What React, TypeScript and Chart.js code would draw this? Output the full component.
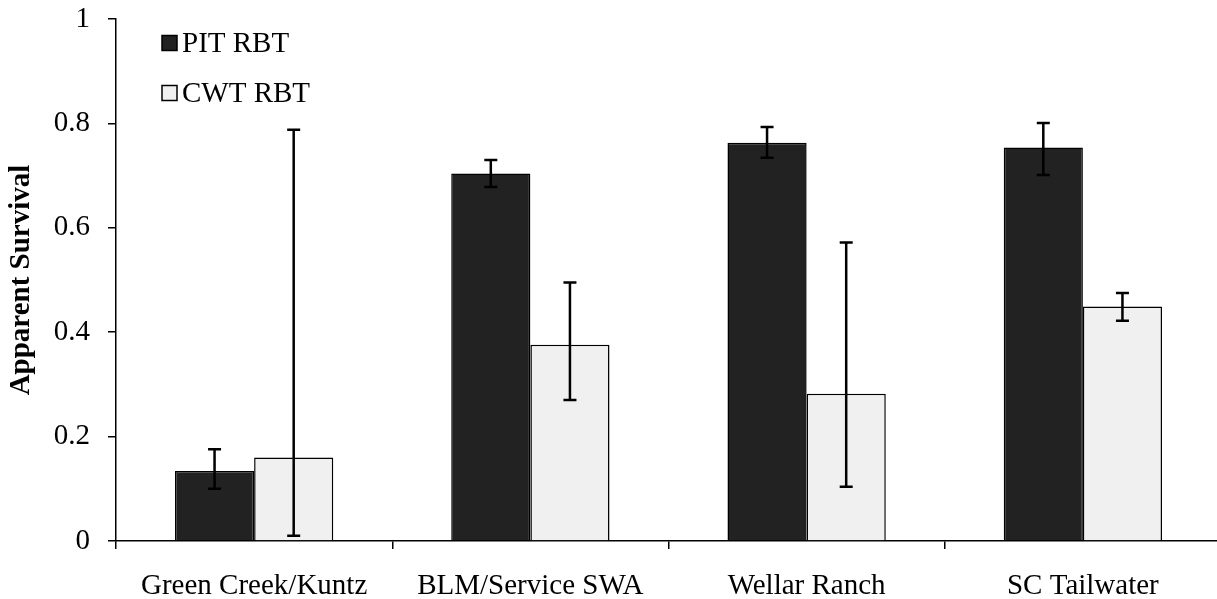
import React, { useEffect, useRef } from "react";
import { Chart, registerables } from "chart.js";

Chart.register(...registerables);

const categories = ["Green Creek/Kuntz", "BLM/Service SWA", "Wellar Ranch", "SC Tailwater"];
const seriesNames = ["PIT RBT", "CWT RBT"];
const pitValues = [0.134, 0.704, 0.763, 0.754];
const pitLower = [0.100, 0.678, 0.734, 0.701];
const pitUpper = [0.176, 0.730, 0.793, 0.801];
const cwtValues = [0.160, 0.376, 0.282, 0.449];
const cwtLower = [0.010, 0.270, 0.104, 0.422];
const cwtUpper = [0.788, 0.495, 0.572, 0.475];
const yTicks = [0, 0.2, 0.4, 0.6, 0.8, 1];

const FONT = '"Liberation Serif", "Times New Roman", serif';
const colors = ["#222222", "#f0f0f0"];

const errorBarPlugin = {
  id: "errorBars",
  afterDatasetsDraw(chart: any) {
    const ctx = chart.ctx;
    const y = chart.scales.y;
    const bounds = [
      [pitLower, pitUpper],
      [cwtLower, cwtUpper],
    ];
    chart.data.datasets.forEach((_ds: any, i: number) => {
      const meta = chart.getDatasetMeta(i);
      meta.data.forEach((bar: any, j: number) => {
        const x = bar.x;
        const top = y.getPixelForValue(bounds[i][1][j]);
        const bot = y.getPixelForValue(bounds[i][0][j]);
        ctx.save();
        ctx.strokeStyle = "#000";
        ctx.lineWidth = 2.5;
        ctx.beginPath();
        ctx.moveTo(x, top);
        ctx.lineTo(x, bot);
        ctx.moveTo(x - 6.5, top);
        ctx.lineTo(x + 6.5, top);
        ctx.moveTo(x - 6.5, bot);
        ctx.lineTo(x + 6.5, bot);
        ctx.stroke();
        ctx.restore();
      });
    });
  },
};

const legendPlugin = {
  id: "customLegend",
  afterDraw(chart: any) {
    const ctx = chart.ctx;
    const startX = 162;
    const rows = [43, 93];
    chart.data.datasets.forEach((ds: any, i: number) => {
      const cy = rows[i];
      ctx.save();
      ctx.fillStyle = ds.backgroundColor;
      ctx.fillRect(startX, cy - 7.5, 15, 15);
      ctx.strokeStyle = "#000";
      ctx.lineWidth = 1.5;
      ctx.strokeRect(startX, cy - 7.5, 15, 15);
      ctx.fillStyle = "#000";
      ctx.font = `29px ${FONT}`;
      ctx.textBaseline = "middle";
      ctx.textAlign = "left";
      ctx.fillText(ds.label, startX + 20, cy + 1);
      ctx.restore();
    });
  },
};

export default function App() {
  const ref = useRef<HTMLCanvasElement>(null);
  useEffect(() => {
    if (!ref.current) return;
    const chart = new Chart(ref.current, {
      type: "bar",
      data: {
        labels: categories,
        datasets: [
          {
            label: seriesNames[0],
            data: pitValues,
            backgroundColor: colors[0],
            borderColor: "#000",
            borderWidth: 1.5,
            categoryPercentage: 0.573,
            barPercentage: 1,
          },
          {
            label: seriesNames[1],
            data: cwtValues,
            backgroundColor: colors[1],
            borderColor: "#000",
            borderWidth: 1.5,
            categoryPercentage: 0.573,
            barPercentage: 1,
          },
        ],
      },
      options: {
        responsive: false,
        animation: false,
        devicePixelRatio: 1,
        layout: { padding: { top: 19, left: 0, right: 0, bottom: 0 } },
        plugins: {
          legend: { display: false },
          tooltip: { enabled: false },
        },
        scales: {
          x: {
            grid: {
              drawOnChartArea: false,
              drawTicks: true,
              tickLength: 8,
              color: "#000",
              lineWidth: 1.5,
            },
            border: { display: true, color: "#000", width: 1.5 },
            ticks: {
              color: "#000",
              font: { family: FONT, size: 29 },
              padding: 20,
              maxRotation: 0,
              autoSkip: false,
            },
            afterFit: (scale: any) => {
              scale.height = 58;
              scale.paddingLeft = 0;
              scale.paddingRight = 0;
            },
          },
          y: {
            min: 0,
            max: 1,
            afterBuildTicks: (scale: any) => {
              scale.ticks = yTicks.map((v) => ({ value: v }));
            },
            grid: {
              drawOnChartArea: false,
              drawTicks: true,
              tickLength: 8,
              color: "#000",
              lineWidth: 1.5,
            },
            border: { display: true, color: "#000", width: 1.5 },
            ticks: {
              color: "#000",
              font: { family: FONT, size: 29 },
              padding: 18,
              callback: (v: any) => String(Number(v)),
            },
            title: {
              display: true,
              text: "Apparent Survival",
              color: "#000",
              font: { family: FONT, size: 29, weight: "bold" },
              padding: { top: 4, bottom: 0 },
            },
            afterFit: (scale: any) => {
              scale.width = 116;
              scale.paddingTop = 0;
              scale.paddingBottom = 0;
            },
          },
        },
      },
      plugins: [errorBarPlugin, legendPlugin],
    });
    return () => chart.destroy();
  }, []);

  return (
    <div
      style={{
        position: "fixed",
        left: 0,
        top: 0,
        width: 1217,
        height: 599,
        overflow: "hidden",
        background: "#fff",
      }}
    >
      <canvas ref={ref} width={1221} height={599} style={{ width: 1221, height: 599, display: "block" }} />
    </div>
  );
}
